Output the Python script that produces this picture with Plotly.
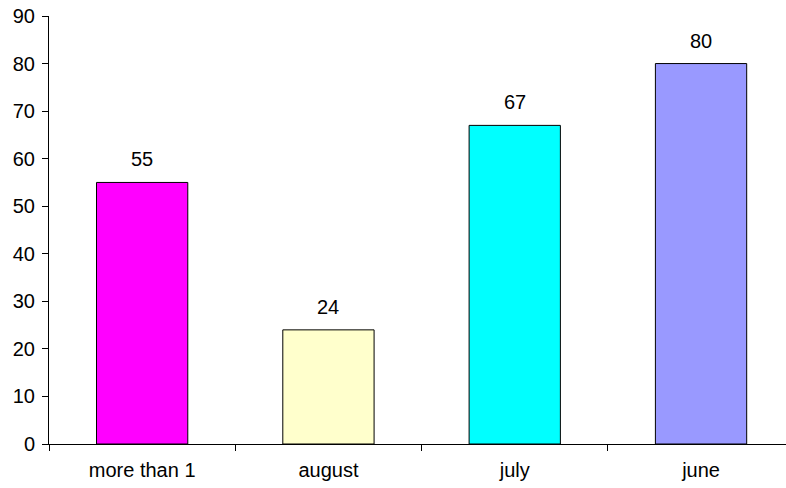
import plotly.graph_objects as go

categories = ["more than 1", "august", "july", "june"]
values = [55, 24, 67, 80]
colors = ["#FF00FF", "#FFFFCC", "#00FFFF", "#9999FF"]
y_ticks = [0, 10, 20, 30, 40, 50, 60, 70, 80, 90]

FONT = "Liberation Sans, Arial, sans-serif"
FS = 20

fig = go.Figure()
fig.add_trace(go.Bar(
    x=categories, y=values,
    marker=dict(color=colors, line=dict(color="black", width=1)),
    width=0.49,
))

for c, v in zip(categories, values):
    fig.add_annotation(x=c, y=v, text=str(v), showarrow=False,
                       yanchor="bottom", yshift=10,
                       font=dict(family=FONT, size=FS, color="black"))

fig.update_layout(
    width=786, height=488,
    margin=dict(l=49, r=0, t=16, b=44),
    paper_bgcolor="white", plot_bgcolor="white",
    showlegend=False,
    font=dict(family=FONT, size=FS, color="black"),
)
fig.update_xaxes(
    type="category", range=[-0.5, 3.456],
    showline=True, linecolor="black", linewidth=1,
    ticks="outside", tickson="boundaries", ticklen=6, tickcolor="black",
    ticklabelstandoff=8,
    showgrid=False, zeroline=False,
)
fig.update_yaxes(
    range=[0, 90], tickvals=y_ticks,
    showline=True, linecolor="black", linewidth=1,
    ticks="outside", ticklen=6, tickcolor="black",
    ticklabelstandoff=3,
    showgrid=False, zeroline=False,
)

fig.write_html("out.html")
